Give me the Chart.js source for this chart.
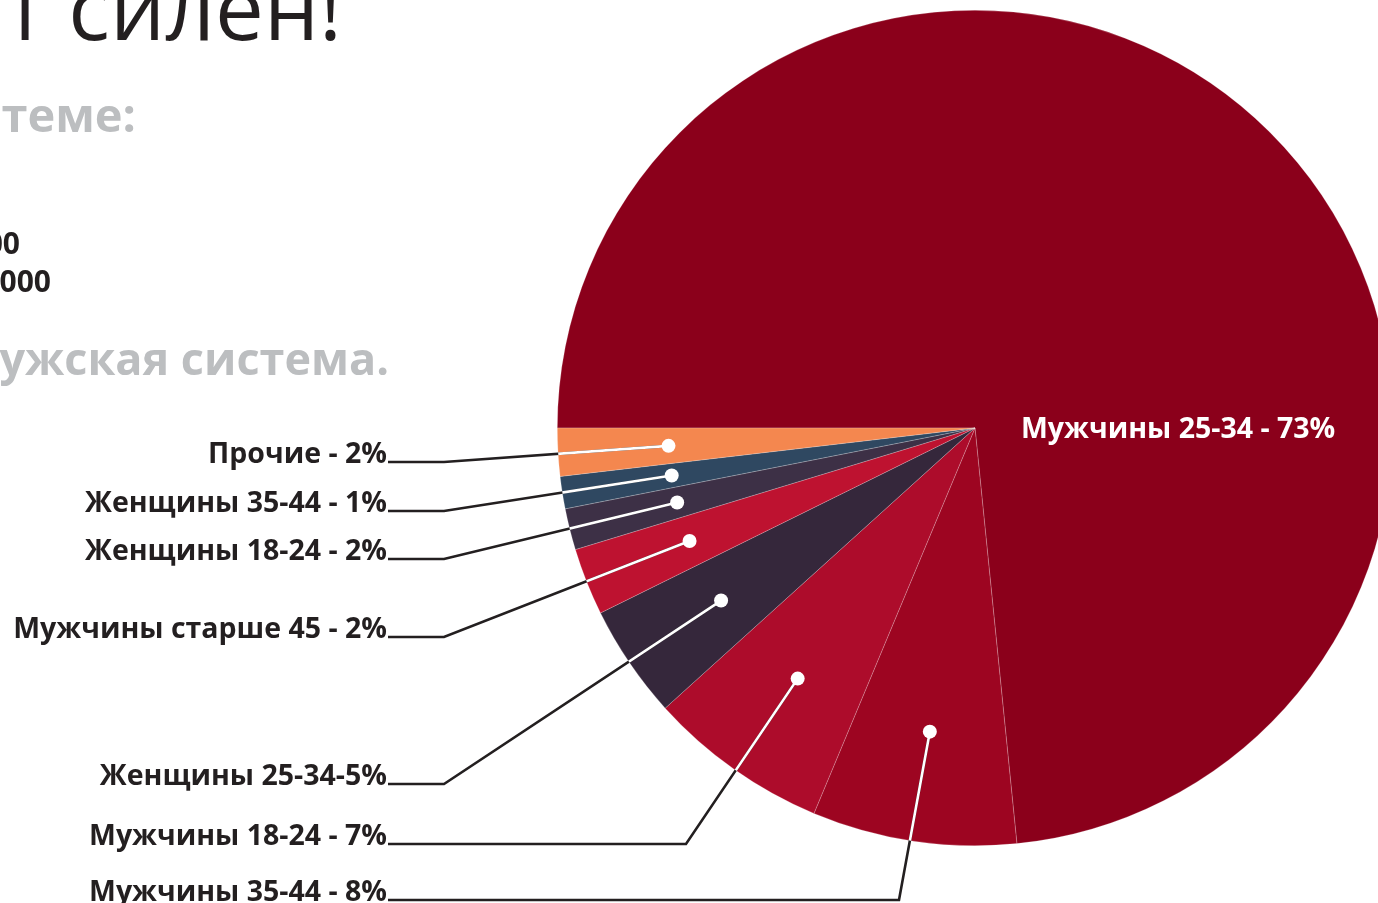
<!DOCTYPE html>
<html lang="ru">
<head>
<meta charset="utf-8">
<title>Аудитория</title>
<script src="https://cdn.jsdelivr.net/npm/chart.js@4.4.1/dist/chart.umd.min.js"></script>
<style>
  html, body { margin: 0; padding: 0; background: #fff; overflow: hidden; }
  .page { position: relative; width: 1378px; height: 903px; overflow: hidden; }
  #audienceChart { position: absolute; left: 0; top: 0; }
</style>
</head>
<body>
<div class="page">
  <canvas id="audienceChart" width="1420" height="903"></canvas>
</div>
<script>
// slices, clockwise from 9 o'clock
const categories = ['Мужчины 25-34', 'Мужчины 35-44', 'Мужчины 18-24', 'Женщины 25-34',
  'Мужчины старше 45', 'Женщины 18-24', 'Женщины 35-44', 'Прочие'];
const shares = [73.4, 7.9, 7.0, 4.4, 2.6, 1.6, 1.25, 1.85];
const labelTexts = ['Мужчины 25-34 - 73%', 'Мужчины 35-44 - 8%', 'Мужчины 18-24 - 7%', 'Женщины 25-34-5%',
  'Мужчины старше 45 - 2%', 'Женщины 18-24 - 2%', 'Женщины 35-44 - 1%', 'Прочие - 2%'];
const sliceColors = ['#8b001b', '#9d0521', '#ad0c2b', '#35273b', '#be1230', '#3d3046', '#2f4861', '#f4874f'];

// header fragments (cut off by the page edge in the original layout)
const headerLines = [
  { text: 'т силен!', right: 342, y: 40, font: '87px "Open Sans"', color: '#231f20' },
  { text: 'системе:', right: 136, y: 132, font: 'bold 47px "Open Sans"', color: '#bcbec0' },
  { text: '00', right: 20, y: 254, font: 'bold 30px "Open Sans"', color: '#231f20' },
  { text: '000', right: 51, y: 292, font: 'bold 30px "Open Sans"', color: '#231f20' },
  { text: 'мужская система.', right: 389, y: 375, font: 'bold 45px "Open Sans"', color: '#bcbec0' }
];

// callout layout for the small slices (index matches categories)
const calloutY = [null, 900, 844, 784, 637, 559, 511, 462];
const elbowX = [null, 899, 686, 444, 444, 444, 444, 444];
const labelFont = 'bold 28.5px "Open Sans"';

const calloutPlugin = {
  id: 'callouts',
  beforeDraw(chart) {
    const ctx = chart.ctx;
    ctx.save();
    ctx.textAlign = 'right';
    ctx.textBaseline = 'alphabetic';
    headerLines.forEach(h => {
      ctx.font = h.font;
      ctx.fillStyle = h.color;
      ctx.fillText(h.text, h.right, h.y);
    });
    ctx.restore();
  },
  afterDatasetsDraw(chart) {
    const ctx = chart.ctx;
    const arcs = chart.getDatasetMeta(0).data;
    const cx = arcs[0].x, cy = arcs[0].y, R = arcs[0].outerRadius;

    const points = [];
    arcs.forEach((arc, i) => {
      if (i === 0) return;
      const mid = (arc.startAngle + arc.endAngle) / 2;
      points.push({ i, px: cx + Math.cos(mid) * R * 0.735, py: cy + Math.sin(mid) * R * 0.735 });
    });

    const trace = p => {
      ctx.beginPath();
      ctx.moveTo(388, calloutY[p.i]);
      ctx.lineTo(elbowX[p.i], calloutY[p.i]);
      ctx.lineTo(p.px, p.py);
    };

    ctx.save();
    ctx.lineWidth = 2.6;
    ctx.strokeStyle = '#231f20';
    points.forEach(p => { trace(p); ctx.stroke(); });

    // inside the pie the leader turns white
    ctx.save();
    ctx.beginPath();
    ctx.arc(cx, cy, R, 0, Math.PI * 2);
    ctx.clip();
    ctx.strokeStyle = '#fff';
    points.forEach(p => { trace(p); ctx.stroke(); });
    ctx.restore();

    ctx.fillStyle = '#fff';
    points.forEach(p => {
      ctx.beginPath();
      ctx.arc(p.px, p.py, 7, 0, Math.PI * 2);
      ctx.fill();
    });

    ctx.font = labelFont;
    ctx.textBaseline = 'alphabetic';
    ctx.textAlign = 'right';
    ctx.fillStyle = '#231f20';
    points.forEach(p => ctx.fillText(labelTexts[p.i], 387, calloutY[p.i] + 1));

    ctx.textAlign = 'left';
    ctx.fillStyle = '#fff';
    ctx.fillText(labelTexts[0], cx + 46, cy + 10);
    ctx.restore();
  }
};

new Chart(document.getElementById('audienceChart'), {
  type: 'pie',
  data: {
    labels: categories,
    datasets: [{
      data: shares,
      backgroundColor: sliceColors,
      borderColor: 'rgba(255,255,255,0.35)',
      borderWidth: 0.6
    }]
  },
  options: {
    responsive: false,
    animation: false,
    rotation: -90,
    layout: { padding: { left: 557, top: 10, right: 27, bottom: 57 } },
    plugins: {
      legend: { display: false },
      tooltip: { enabled: false }
    }
  },
  plugins: [calloutPlugin]
});
</script>
</body>
</html>
